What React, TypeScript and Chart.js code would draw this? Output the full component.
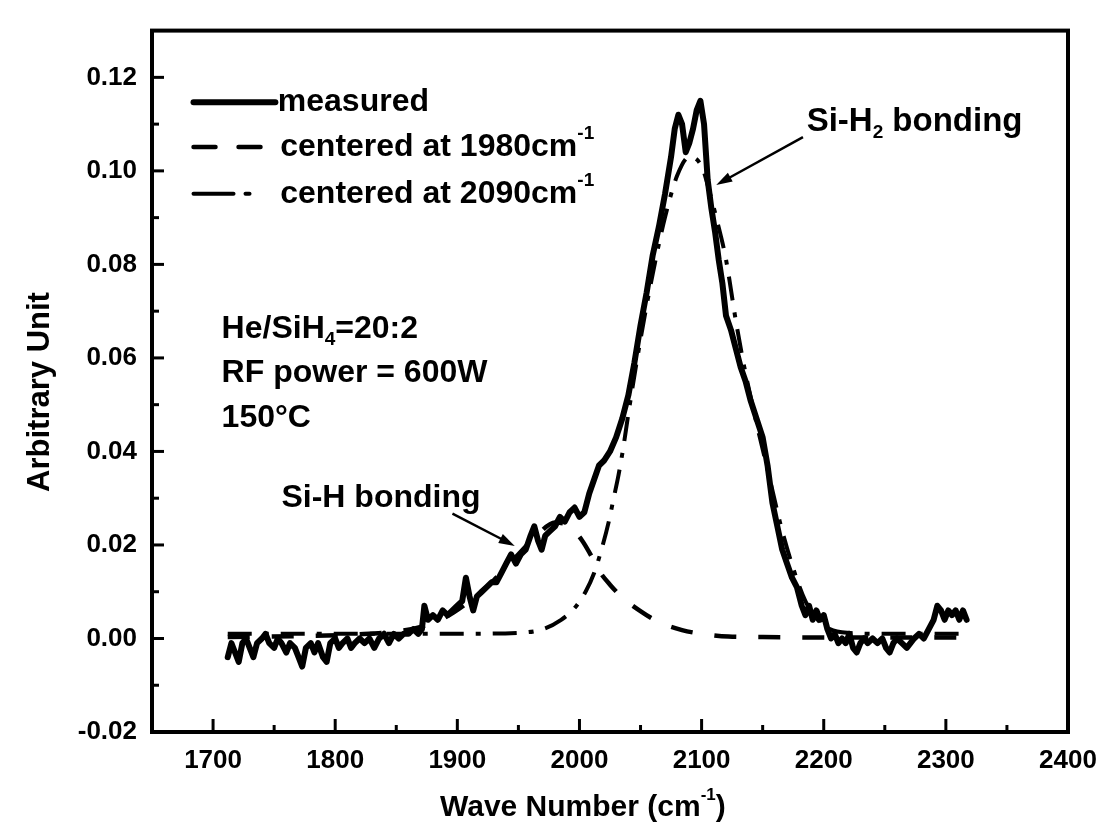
import React, { useEffect, useRef } from "react";
import { Chart, registerables } from "chart.js";

Chart.register(...registerables);

// ---------- data ----------
const measuredX = [
  1712, 1715, 1718, 1721, 1724, 1727, 1730, 1733, 1736, 1740, 1743, 1746, 1750, 1753, 1756, 1760,
  1763, 1767, 1770, 1773, 1776, 1780, 1783, 1786, 1790, 1793, 1796, 1800, 1803, 1806, 1810, 1813,
  1816, 1820, 1824, 1828, 1832, 1836, 1840, 1844, 1848, 1852, 1856, 1860, 1864, 1868, 1871, 1873,
  1876, 1880, 1884, 1888, 1892, 1896, 1900, 1904, 1907, 1910, 1913, 1916, 1920, 1924, 1928, 1932,
  1936, 1940, 1944, 1948, 1952, 1956, 1960, 1963, 1966, 1969, 1972, 1976, 1980, 1984, 1988, 1992,
  1996, 2000, 2004, 2008, 2012, 2016, 2020, 2025, 2030, 2035, 2040, 2045, 2050, 2055, 2060, 2065,
  2070, 2075, 2078, 2081, 2084, 2087, 2090, 2093, 2096, 2099, 2102, 2105, 2108, 2111, 2114, 2117,
  2120, 2124, 2128, 2132, 2136, 2140, 2145, 2150, 2154, 2158, 2162, 2166, 2170, 2174, 2178, 2182,
  2185, 2188, 2191, 2194, 2197, 2200, 2203, 2206, 2209, 2212, 2215, 2218, 2221, 2224, 2227, 2230,
  2233, 2236, 2240, 2244, 2248, 2251, 2254, 2257, 2260, 2264, 2268, 2271, 2274, 2278, 2282, 2286,
  2290, 2293, 2296, 2299, 2302, 2305, 2308, 2311, 2314, 2317,
];
const measuredY = [
  -0.004, -0.001, -0.003, -0.005, -0.001, 0.0, -0.002, -0.004, -0.001, 0.0, 0.001, -0.001, -0.002, 0.0, -0.001, -0.003,
  -0.001, -0.002, -0.004, -0.006, -0.002, -0.001, -0.003, -0.001, -0.004, -0.005, -0.001, 0.0, -0.002, -0.001, 0.0, -0.002,
  -0.001, 0.0, -0.001, 0.0, -0.002, 0.0, 0.001, -0.001, 0.001, 0.0, 0.001, 0.001, 0.002, 0.001, 0.002, 0.007,
  0.004, 0.005, 0.004, 0.006, 0.005, 0.006, 0.007, 0.008, 0.013, 0.009, 0.006, 0.009, 0.01, 0.011, 0.012, 0.012,
  0.014, 0.016, 0.018, 0.016, 0.018, 0.019, 0.022, 0.024, 0.021, 0.019, 0.022, 0.023, 0.024, 0.026, 0.025, 0.027,
  0.028, 0.026, 0.027, 0.031, 0.034, 0.037, 0.038, 0.04, 0.043, 0.047, 0.052, 0.059, 0.067, 0.074, 0.082, 0.088,
  0.095, 0.103, 0.109, 0.112, 0.11, 0.104, 0.106, 0.109, 0.113, 0.115, 0.11, 0.098, 0.092, 0.087, 0.081, 0.076,
  0.069, 0.066, 0.062, 0.058, 0.055, 0.051, 0.047, 0.043, 0.037, 0.029, 0.024, 0.019, 0.016, 0.013, 0.011, 0.007,
  0.005, 0.007, 0.004, 0.006, 0.004, 0.005, 0.002, 0.0, 0.001, -0.001, 0.0, -0.001, 0.001, -0.002, -0.003, -0.001,
  0.0, -0.001, 0.0, -0.001, 0.0, -0.002, -0.003, -0.001, 0.0, -0.001, -0.002, -0.001, 0.0, 0.001, 0.0, 0.002,
  0.004, 0.007, 0.006, 0.004, 0.006, 0.005, 0.006, 0.004, 0.006, 0.004,
];

const fit1980X = [
  1712, 1770, 1820, 1850, 1870, 1890, 1910, 1930, 1950, 1965, 1980, 1992, 2002, 2010, 2016, 2025,
  2035, 2049, 2065, 2084, 2100, 2122, 2150, 2200, 2250, 2318,
];
const fit1980Y = [
  0.0003, 0.0005, 0.0009, 0.0015, 0.0025, 0.0045, 0.008, 0.0125, 0.018, 0.022, 0.0248, 0.024, 0.021, 0.0175, 0.0145, 0.0115,
  0.0088, 0.006, 0.0035, 0.0018, 0.001, 0.0004, 0.0003, 0.0002, 0.0002, 0.0002,
];

const fit2090X = [
  1712, 1800, 1900, 1950, 1970, 1985, 1996, 2005, 2012, 2018, 2024, 2028, 2032, 2036, 2040, 2050,
  2060, 2070, 2080, 2090, 2100, 2106, 2112, 2120, 2128, 2135, 2145, 2155, 2165, 2175, 2185, 2195,
  2205, 2220, 2250, 2318,
];
const fit2090Y = [
  0.001, 0.001, 0.001, 0.0012, 0.002, 0.004, 0.0065, 0.01, 0.014, 0.019, 0.025, 0.03, 0.035, 0.041, 0.048, 0.064,
  0.078, 0.09, 0.099, 0.103, 0.101, 0.096, 0.09, 0.081, 0.068, 0.058, 0.046, 0.035, 0.024, 0.015, 0.008, 0.004,
  0.002, 0.0012, 0.001, 0.001,
];

const xTickValues = [1700, 1800, 1900, 2000, 2100, 2200, 2300, 2400];
const xMinorTicks = [1750, 1850, 1950, 2050, 2150, 2250, 2350];
const yTickValues = [-0.02, 0.0, 0.02, 0.04, 0.06, 0.08, 0.1, 0.12];
const yMinorTicks = [-0.01, 0.01, 0.03, 0.05, 0.07, 0.09, 0.11];

const xTitle = "Wave Number (cm";
const xTitleSup = "-1";
const yTitle = "Arbitrary Unit";
const legendLabels = ["measured", "centered at 1980cm", "centered at 2090cm"];
const legendSup = ["", "-1", "-1"];
const conditionLines = ["He/SiH", "RF power = 600W", "150°C"];

const FAM = '"Liberation Sans", Arial, Helvetica, sans-serif';

type Part = { t: string; s?: "sup" | "sub" };

function drawRich(ctx: CanvasRenderingContext2D, parts: Part[], x: number, y: number, size: number) {
  let cx = x;
  ctx.textAlign = "left";
  ctx.textBaseline = "middle";
  for (const p of parts) {
    if (p.s) {
      ctx.font = `bold ${Math.round(size * 0.58)}px ${FAM}`;
      const dy = p.s === "sup" ? -size * 0.42 : size * 0.32;
      ctx.fillText(p.t, cx, y + dy);
      cx += ctx.measureText(p.t).width;
    } else {
      ctx.font = `bold ${size}px ${FAM}`;
      ctx.fillText(p.t, cx, y);
      cx += ctx.measureText(p.t).width;
    }
  }
  return cx;
}

function arrow(ctx: CanvasRenderingContext2D, x1: number, y1: number, x2: number, y2: number) {
  const ang = Math.atan2(y2 - y1, x2 - x1);
  const hl = 16;
  const hw = 5;
  ctx.beginPath();
  ctx.moveTo(x1, y1);
  ctx.lineTo(x2 - Math.cos(ang) * hl * 0.8, y2 - Math.sin(ang) * hl * 0.8);
  ctx.lineWidth = 2.5;
  ctx.stroke();
  ctx.beginPath();
  ctx.moveTo(x2, y2);
  ctx.lineTo(x2 - Math.cos(ang) * hl + Math.sin(ang) * hw, y2 - Math.sin(ang) * hl - Math.cos(ang) * hw);
  ctx.lineTo(x2 - Math.cos(ang) * hl - Math.sin(ang) * hw, y2 - Math.sin(ang) * hl + Math.cos(ang) * hw);
  ctx.closePath();
  ctx.fill();
}

const framePlugin = {
  id: "frameAndNotes",
  afterDraw(chart: any) {
    const { ctx, chartArea } = chart;
    const { left, right, top, bottom } = chartArea;
    const xs = chart.scales.x;
    const ys = chart.scales.y;
    const X = (v: number) => xs.getPixelForValue(v);
    const Y = (v: number) => ys.getPixelForValue(v);
    ctx.save();
    ctx.strokeStyle = "#000";
    ctx.fillStyle = "#000";
    ctx.lineCap = "butt";
    // frame
    ctx.lineWidth = 4;
    ctx.strokeRect(left, top, right - left, bottom - top);
    // ticks (inward)
    ctx.lineWidth = 3;
    const seg = (a: number, b: number, c: number, d: number) => {
      ctx.beginPath();
      ctx.moveTo(a, b);
      ctx.lineTo(c, d);
      ctx.stroke();
    };
    xTickValues.forEach((v) => seg(X(v), bottom, X(v), bottom - 13));
    xMinorTicks.forEach((v) => seg(X(v), bottom, X(v), bottom - 7));
    yTickValues.forEach((v) => seg(left, Y(v), left + 12, Y(v)));
    yMinorTicks.forEach((v) => seg(left, Y(v), left + 7, Y(v)));

    // axis titles
    drawRich(ctx, [{ t: xTitle }, { t: xTitleSup, s: "sup" }, { t: ")" }], 440, 808, 30);
    ctx.save();
    ctx.translate(40, 392);
    ctx.rotate(-Math.PI / 2);
    ctx.font = `bold 31px ${FAM}`;
    ctx.textAlign = "center";
    ctx.textBaseline = "middle";
    ctx.fillText(yTitle, 0, 0);
    ctx.restore();

    // legend
    const lx0 = X(1684);
    const rowY = [Y(0.1147), Y(0.1051), Y(0.0951)];
    ctx.lineWidth = 6;
    ctx.lineCap = "round";
    seg(lx0, rowY[0], X(1751), rowY[0]);
    ctx.lineWidth = 4.5;
    seg(lx0, rowY[1], lx0 + 22, rowY[1]);
    seg(lx0 + 45, rowY[1], lx0 + 67, rowY[1]);
    ctx.lineWidth = 4;
    seg(lx0, rowY[2], lx0 + 40, rowY[2]);
    seg(lx0 + 52, rowY[2], lx0 + 56, rowY[2]);
    ctx.lineCap = "butt";
    ctx.fillStyle = "#000";
    drawRich(ctx, [{ t: legendLabels[0] }], X(1753), rowY[0], 32);
    drawRich(ctx, [{ t: legendLabels[1] }, { t: legendSup[1], s: "sup" }], X(1755), rowY[1], 32);
    drawRich(ctx, [{ t: legendLabels[2] }, { t: legendSup[2], s: "sup" }], X(1755), rowY[2], 32);

    // conditions
    drawRich(ctx, [{ t: conditionLines[0] }, { t: "4", s: "sub" }, { t: "=20:2" }], X(1707), Y(0.0661), 32);
    drawRich(ctx, [{ t: conditionLines[1] }], X(1707), Y(0.0567), 32);
    drawRich(ctx, [{ t: conditionLines[2] }], X(1707), Y(0.0471), 32);

    // Si-H annotation
    drawRich(ctx, [{ t: "Si-H bonding" }], X(1756), Y(0.0299), 32);
    arrow(ctx, X(1896), Y(0.0267), X(1947), Y(0.0198));

    // Si-H2 annotation
    drawRich(ctx, [{ t: "Si-H" }, { t: "2", s: "sub" }, { t: " bonding" }], X(2186), Y(0.1104), 33);
    arrow(ctx, X(2183), Y(0.1072), X(2112), Y(0.097));
    ctx.restore();
  },
};

export default function App() {
  const ref = useRef<HTMLCanvasElement | null>(null);
  useEffect(() => {
    if (!ref.current) return;
    const tickFont = { family: FAM, size: 26, weight: "bold" as const };
    const chart = new Chart(ref.current, {
      type: "line",
      data: {
        datasets: [
          {
            label: "centered at 1980",
            data: fit1980X.map((x, i) => ({ x, y: fit1980Y[i] })),
            borderColor: "#000",
            borderWidth: 4.5,
            borderDash: [22, 22],
            pointRadius: 0,
            cubicInterpolationMode: "monotone",
            fill: false,
          },
          {
            label: "centered at 2090",
            data: fit2090X.map((x, i) => ({ x, y: fit2090Y[i] })),
            borderColor: "#000",
            borderWidth: 4,
            borderDash: [24, 12, 5, 12],
            pointRadius: 0,
            cubicInterpolationMode: "monotone",
            fill: false,
          },
          {
            label: "measured",
            data: measuredX.map((x, i) => ({ x, y: measuredY[i] })),
            borderColor: "#000",
            borderWidth: 6,
            borderJoinStyle: "round",
            borderCapStyle: "round",
            pointRadius: 0,
            tension: 0,
            fill: false,
          },
        ],
      },
      options: {
        responsive: false,
        animation: false,
        layout: { padding: { left: 0, top: 28, right: 52, bottom: 0 } },
        plugins: { legend: { display: false }, tooltip: { enabled: false } },
        scales: {
          x: {
            type: "linear",
            min: 1650,
            max: 2400,
            afterBuildTicks: (s: any) => {
              s.ticks = xTickValues.map((v) => ({ value: v }));
            },
            afterFit: (s: any) => {
              s.height = 102;
            },
            grid: { display: false, drawTicks: false },
            border: { display: false },
            ticks: {
              font: tickFont,
              color: "#000",
              padding: 13,
              maxRotation: 0,
              autoSkip: false,
              callback: (v: any) => String(v),
            },
          },
          y: {
            type: "linear",
            min: -0.02,
            max: 0.13,
            afterBuildTicks: (s: any) => {
              s.ticks = yTickValues.map((v) => ({ value: v }));
            },
            afterFit: (s: any) => {
              s.width = 152;
            },
            grid: { display: false, drawTicks: false },
            border: { display: false },
            ticks: {
              font: tickFont,
              color: "#000",
              padding: 15,
              autoSkip: false,
              callback: (v: any) => Number(v).toFixed(2),
            },
          },
        },
      },
      plugins: [framePlugin],
    });
    return () => chart.destroy();
  }, []);
  return (
    <div style={{ position: "absolute", left: 0, top: 0, width: 1120, height: 834, background: "#fff" }}>
      <canvas ref={ref} width={1120} height={834} style={{ display: "block" }} />
    </div>
  );
}
